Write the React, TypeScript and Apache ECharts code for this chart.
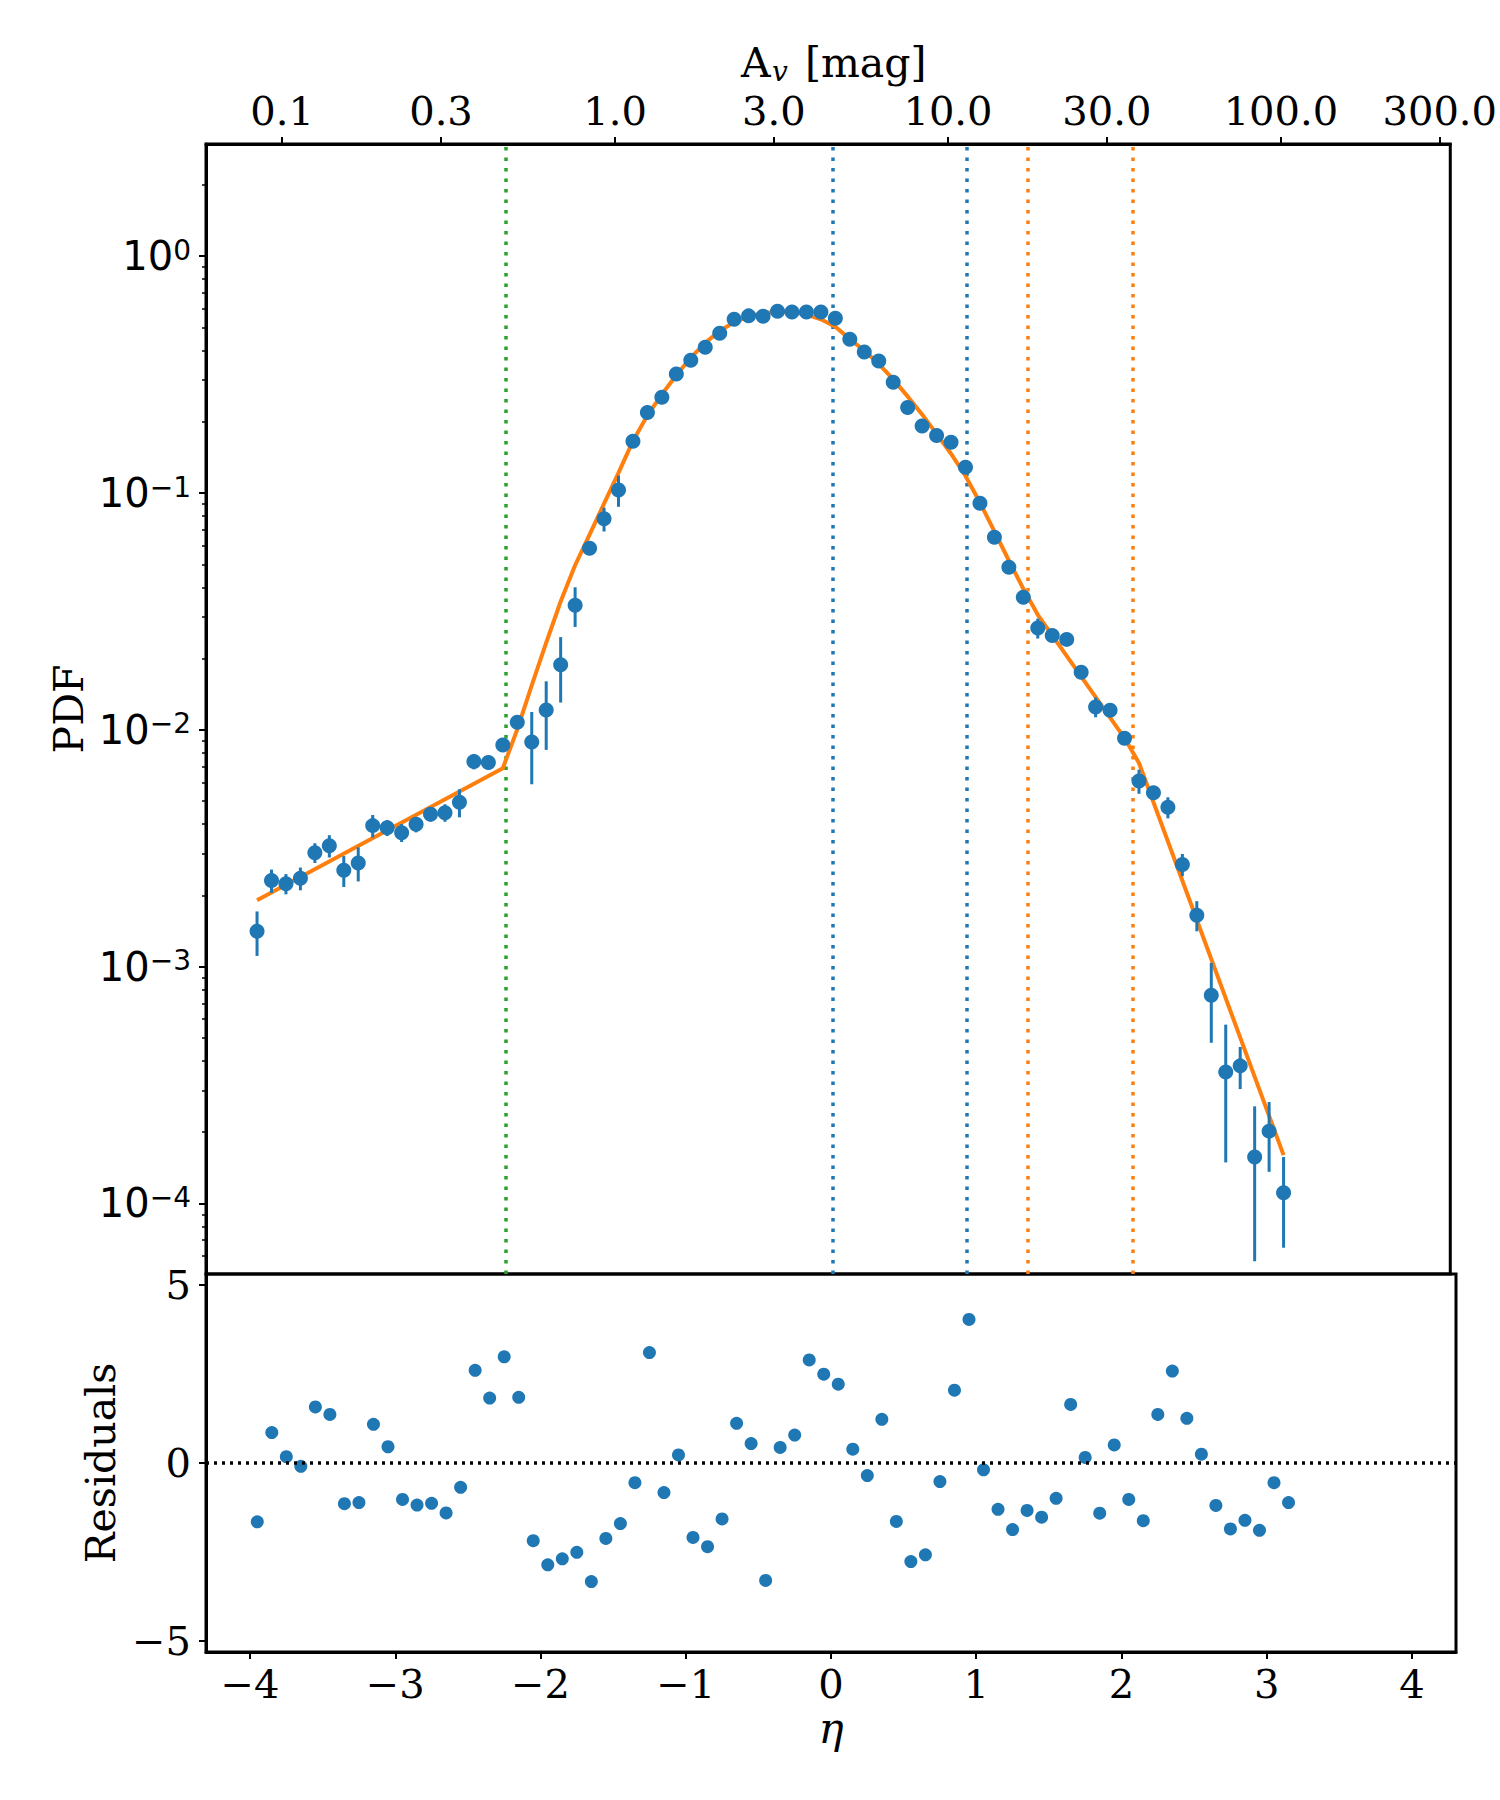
import React, { useEffect, useRef } from "react";
import * as echarts from "echarts";

// ---- data ----
const etaValues = [
  -3.95, -3.85, -3.75, -3.65, -3.55, -3.45, -3.35, -3.25, -3.15, -3.05,
  -2.95, -2.85, -2.75, -2.65, -2.55, -2.45, -2.35, -2.25, -2.15, -2.05,
  -1.95, -1.85, -1.75, -1.65, -1.55, -1.45, -1.35, -1.25, -1.15, -1.05,
  -0.95, -0.85, -0.75, -0.65, -0.55, -0.45, -0.35, -0.25, -0.15, -0.05,
  0.05, 0.15, 0.25, 0.35, 0.45, 0.55, 0.65, 0.75, 0.85, 0.95,
  1.05, 1.15, 1.25, 1.35, 1.45, 1.55, 1.65, 1.75, 1.85, 1.95,
  2.05, 2.15, 2.25, 2.35, 2.45, 2.55, 2.65, 2.75, 2.85, 2.95,
  3.05, 3.15,
];

const pdfValues = [
  1.41e-3, 2.31e-3, 2.24e-3, 2.36e-3, 3.03e-3, 3.24e-3, 2.55e-3, 2.74e-3, 3.94e-3, 3.86e-3,
  3.68e-3, 3.99e-3, 4.4e-3, 4.47e-3, 4.94e-3, 7.35e-3, 7.28e-3, 8.63e-3, 1.076e-2, 8.89e-3,
  1.213e-2, 1.884e-2, 3.36e-2, 5.85e-2, 7.78e-2, 0.103, 0.1656, 0.219, 0.254, 0.318,
  0.364, 0.413, 0.473, 0.542, 0.56, 0.558, 0.586, 0.581, 0.582, 0.582,
  0.547, 0.446, 0.394, 0.361, 0.294, 0.23, 0.192, 0.175, 0.164, 0.1285,
  0.0906, 0.065, 0.0486, 0.0363, 0.0269, 0.025, 0.0241, 0.0175, 0.0125, 0.0121,
  0.00922, 0.00608, 0.00542, 0.00471, 0.0027, 0.00165, 7.57e-4, 3.59e-4, 3.81e-4, 1.57e-4,
  2.02e-4, 1.11e-4,
];

const pdfErrors = [
  3.0e-4, 2.6e-4, 2.2e-4, 2.6e-4, 2.9e-4, 3.5e-4, 3.8e-4, 4.5e-4, 4.3e-4, 3.0e-4,
  3.2e-4, 3.0e-4, 3.0e-4, 3.8e-4, 6.7e-4, 5.4e-4, 5.0e-4, 5.0e-4, 5.0e-4, 3.0e-3,
  3.9e-3, 5.8e-3, 6.4e-3, 2.0e-3, 9.0e-3, 1.55e-2, 8e-3, 3e-3, 7e-3, 8e-3,
  8e-3, 9e-3, 9e-3, 8e-3, 6e-3, 5e-3, 5e-3, 5e-3, 4e-3, 4e-3,
  8e-3, 8e-3, 7e-3, 7e-3, 6e-3, 5e-3, 5e-3, 4e-3, 4e-3, 3e-3,
  2.5e-3, 2e-3, 1.5e-3, 1.2e-3, 2.6e-3, 9e-4, 9e-4, 7e-4, 1.2e-3, 6e-4,
  4e-4, 7.1e-4, 3e-4, 4.8e-4, 2.9e-4, 2.4e-4, 2.8e-4, 2.1e-4, 7.7e-5, 1.0e-4,
  6.6e-5, 4.6e-5,
];

const residuals = [
  -1.66, 0.85, 0.17, -0.1, 1.57, 1.36, -1.15, -1.12, 1.08, 0.45,
  -1.03, -1.19, -1.14, -1.41, -0.69, 2.6, 1.82, 2.98, 1.84, -2.19,
  -2.87, -2.7, -2.52, -3.34, -2.13, -1.71, -0.56, 3.1, -0.84, 0.22,
  -2.1, -2.36, -1.58, 1.11, 0.54, -3.31, 0.43, 0.78, 2.89, 2.49,
  2.21, 0.38, -0.36, 1.22, -1.65, -2.78, -2.59, -0.53, 2.04, 4.03,
  -0.2, -1.31, -1.88, -1.34, -1.53, -1.0, 1.64, 0.15, -1.42, 0.5,
  -1.03, -1.63, 1.36, 2.58, 1.25, 0.24, -1.2, -1.86, -1.62, -1.9,
  -0.56, -1.12,
];

const modelEta = [
  -3.95, -2.25, -2.15, -2.05, -1.95, -1.85, -1.75, -1.65, -1.55, -1.45,
  -1.35, -1.25, -1.15, -1.05, -0.95, -0.85, -0.75, -0.65, -0.55, -0.45,
  -0.35, -0.25, -0.15, -0.05, 0.05, 0.15, 0.25, 0.35, 0.45, 0.55,
  0.65, 0.75, 0.85, 0.95, 1.05, 1.15, 1.25, 1.35, 1.45, 2.05,
  2.15, 3.15,
];
const modelPdf = [
  1.905e-3, 6.887e-3, 1.005e-2, 1.542e-2, 2.333e-2, 3.483e-2, 4.955e-2, 6.668e-2, 9.016e-2, 0.1216,
  0.166, 0.2128, 0.2612, 0.3141, 0.3733, 0.4305, 0.4831, 0.5272, 0.5572, 0.5754,
  0.5834, 0.5808, 0.5675, 0.542, 0.5035, 0.4467, 0.3999, 0.3508, 0.302, 0.2559,
  0.2148, 0.1778, 0.1466, 0.118, 0.0912, 0.0689, 0.0519, 0.0394, 0.0306, 0.00923,
  0.00724, 1.6e-4,
];

const avTicks = [0.1, 0.3, 1.0, 3.0, 10.0, 30.0, 100.0, 300.0];
const AV0 = 4.365; // A_v at eta = 0
const etaTicks = [-4, -3, -2, -1, 0, 1, 2, 3, 4];
const pdfExponents = [-4, -3, -2, -1, 0];
const residualTicks = [-5, 0, 5];

const greenLines = [-2.229];
const blueLines = [0.027, 0.964];
const orangeLines = [1.378, 2.109];

// axis ranges
const ETA_MIN = -4.303;
const ETA_MAX = 4.303;
const LOG_MIN = -4.298;
const LOG_MAX = 0.474;
const RES_MIN = -5.322;
const RES_MAX = 5.308;

const BLUE = "#1f77b4";
const ORANGE = "#ff7f0e";
const GREEN = "#2ca02c";
const SERIF = "DejaVu Serif";
const SANS = "DejaVu Sans";

const minus = (s: string) => s.replace(/-/g, "\u2212");

export default function App() {
  const ref = useRef<HTMLDivElement>(null);

  useEffect(() => {
    document.body.style.margin = "0";
    const chart = echarts.init(ref.current!, null, { renderer: "svg" });
    const lg = (v: number) => Math.log10(v);

    const scatterData = etaValues.map((e, i) => [e, lg(pdfValues[i])]);
    const errData = etaValues.map((e, i) => [
      e,
      lg(pdfValues[i] - pdfErrors[i]),
      lg(pdfValues[i] + pdfErrors[i]),
    ]);
    const modelData = modelEta.map((e, i) => [e, lg(modelPdf[i])]);
    const resData = etaValues.map((e, i) => [e, residuals[i]]);
    const avTickPos = avTicks.map((a) => Math.log(a / AV0));
    const minorPos: number[] = [];
    for (let n = -5; n <= 0; n++) {
      for (let k = 2; k <= 9; k++) {
        const v = Math.log10(k) + n;
        if (v > LOG_MIN && v < LOG_MAX) minorPos.push(v);
      }
    }

    const axisLine = { show: true, onZero: false, lineStyle: { color: "#000", width: 3 } };
    const tickStyle = { color: "#000", width: 2 };
    const labelBase = { fontFamily: SERIF, fontSize: 40, color: "#000" };
    const vline = (x: number, color: string) => ({
      xAxis: x,
      lineStyle: { color, width: 3.5, type: [3.5, 7] },
    });

    const option: any = {
      animation: false,
      backgroundColor: "#fff",
      grid: [
        { left: 206, top: 144, width: 1250, height: 1130, show: true, borderColor: "#000", borderWidth: 3, backgroundColor: "transparent" },
        { left: 206, top: 1274, width: 1250, height: 378, show: true, borderColor: "#000", borderWidth: 3, backgroundColor: "transparent" },
      ],
      xAxis: [
        {
          gridIndex: 0,
          type: "value",
          position: "top",
          min: ETA_MIN,
          max: ETA_MAX,
          splitLine: { show: false },
          axisLine,
          axisTick: { show: true, customValues: avTickPos, length: 7, lineStyle: tickStyle },
          axisLabel: {
            ...labelBase,
            lineHeight: 36,
            customValues: avTickPos,
            margin: 15,
            formatter: (v: number) => (AV0 * Math.exp(v)).toFixed(1),
          },
        },
        {
          gridIndex: 1,
          type: "value",
          position: "bottom",
          min: ETA_MIN,
          max: ETA_MAX,
          splitLine: { show: false },
          axisLine,
          axisTick: { show: true, customValues: etaTicks, length: 7, lineStyle: tickStyle },
          axisLabel: {
            ...labelBase,
            customValues: etaTicks,
            margin: 12,
            formatter: (v: number) => minus(String(Math.round(v))),
          },
        },
      ],
      yAxis: [
        {
          gridIndex: 0,
          type: "value",
          position: "left",
          min: LOG_MIN,
          max: LOG_MAX,
          splitLine: { show: false },
          axisLine,
          axisTick: { show: true, customValues: pdfExponents, length: 7, lineStyle: tickStyle },
          axisLabel: {
            customValues: pdfExponents,
            margin: 15,
            formatter: (v: number) => `{m|10}{s|${minus(String(Math.round(v)))}}`,
            rich: {
              m: { fontFamily: SANS, fontSize: 40, lineHeight: 40, color: "#000" },
              s: { fontFamily: SANS, fontSize: 28, lineHeight: 28, color: "#000", verticalAlign: "top" },
            },
          },
        },
        {
          gridIndex: 0,
          type: "value",
          position: "left",
          min: LOG_MIN,
          max: LOG_MAX,
          splitLine: { show: false },
          axisLine: { show: false, onZero: false },
          axisTick: { show: true, customValues: minorPos, length: 4, lineStyle: { color: "#000", width: 1.5 } },
          axisLabel: { show: false },
        },
        {
          gridIndex: 1,
          type: "value",
          position: "left",
          min: RES_MIN,
          max: RES_MAX,
          splitLine: { show: false },
          axisLine,
          axisTick: { show: true, customValues: residualTicks, length: 7, lineStyle: tickStyle },
          axisLabel: {
            ...labelBase,
            customValues: residualTicks,
            margin: 15,
            formatter: (v: number) => minus(String(Math.round(v))),
          },
        },
      ],
      series: [
        {
          name: "model",
          type: "line",
          xAxisIndex: 0,
          yAxisIndex: 0,
          data: modelData,
          showSymbol: false,
          symbol: "none",
          z: 2,
          lineStyle: { color: ORANGE, width: 4 },
          markLine: {
            silent: true,
            symbol: ["none", "none"],
            label: { show: false },
            z: 1,
            data: [
              ...greenLines.map((x) => vline(x, GREEN)),
              ...blueLines.map((x) => vline(x, BLUE)),
              ...orangeLines.map((x) => vline(x, ORANGE)),
            ],
          },
        },
        {
          name: "errors",
          type: "custom",
          xAxisIndex: 0,
          yAxisIndex: 0,
          data: errData,
          encode: { x: 0, y: [1, 2] },
          z: 3,
          clip: true,
          renderItem: (params: any, api: any) => {
            const x = api.value(0);
            const p1 = api.coord([x, api.value(1)]);
            const p2 = api.coord([x, api.value(2)]);
            return {
              type: "line",
              shape: { x1: p1[0], y1: p1[1], x2: p2[0], y2: p2[1] },
              style: { stroke: BLUE, lineWidth: 3 },
            };
          },
        },
        {
          name: "PDF",
          type: "scatter",
          xAxisIndex: 0,
          yAxisIndex: 0,
          data: scatterData,
          symbol: "circle",
          symbolSize: 15,
          z: 4,
          itemStyle: { color: BLUE, opacity: 1 },
        },
        {
          name: "residuals",
          type: "scatter",
          xAxisIndex: 1,
          yAxisIndex: 2,
          data: resData,
          symbol: "circle",
          symbolSize: 13,
          z: 4,
          itemStyle: { color: BLUE, opacity: 1 },
          markLine: {
            silent: true,
            symbol: ["none", "none"],
            label: { show: false },
            data: [{ yAxis: 0, lineStyle: { color: "#000", width: 3.5, type: [3, 5] } }],
          },
        },
      ],
      graphic: [
        {
          type: "text",
          x: 741,
          y: 63,
          style: { text: "A", fontFamily: SERIF, fontSize: 41, lineHeight: 38, fill: "#000", align: "left", verticalAlign: "middle" },
        },
        {
          type: "text",
          x: 772,
          y: 71,
          style: { text: "v", fontFamily: SERIF, fontStyle: "italic", fontSize: 28, lineHeight: 18, fill: "#000", align: "left", verticalAlign: "middle" },
        },
        {
          type: "text",
          x: 805,
          y: 63,
          style: { text: "[mag]", fontFamily: SERIF, fontSize: 41, lineHeight: 38, fill: "#000", align: "left", verticalAlign: "middle" },
        },
        {
          type: "text",
          x: 69,
          y: 709,
          rotation: Math.PI / 2,
          style: { text: "PDF", fontFamily: SERIF, fontSize: 41, fill: "#000", align: "center", verticalAlign: "middle" },
        },
        {
          type: "text",
          x: 101,
          y: 1463,
          rotation: Math.PI / 2,
          style: { text: "Residuals", fontFamily: SERIF, fontSize: 41, fill: "#000", align: "center", verticalAlign: "middle" },
        },
        {
          type: "text",
          x: 831,
          y: 1728,
          style: { text: "\u03b7", fontFamily: SERIF, fontStyle: "italic", fontSize: 42, fill: "#000", align: "center", verticalAlign: "middle" },
        },
      ],
    };

    chart.setOption(option);
    return () => chart.dispose();
  }, []);

  return <div ref={ref} style={{ width: 1500, height: 1800 }} />;
}
